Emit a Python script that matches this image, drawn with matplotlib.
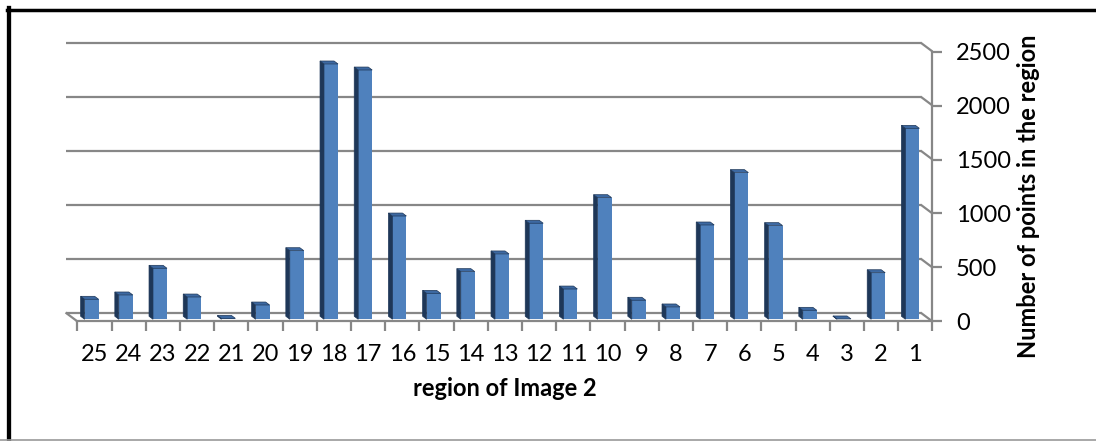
import matplotlib
matplotlib.use("Agg")
import matplotlib.pyplot as plt
from matplotlib.lines import Line2D
from matplotlib.patches import Polygon


# Point counts per region of image 2, listed left to right (25 down to 1)
regions = [str(n) for n in range(25, 0, -1)]
points = [185, 225, 472, 206, 8, 132, 635, 2364, 2308, 956, 240, 441, 605,
          889, 280, 1126, 176, 114, 873, 1358, 867, 83, 3, 431, 1768]
y_ticks = [0, 500, 1000, 1500, 2000, 2500]

FRONT = "#4F81BD"
SIDE = "#1E3758"
TOP = "#3D69A2"
GRID = "#878787"

plt.rcParams["font.family"] = ["Lato", "DejaVu Sans"]

fig = plt.figure(figsize=(10.96, 4.41), dpi=100)
ax = fig.add_axes([0.0707, 0.271, 0.7801, 0.6122])
n = len(regions)
ax.set_xlim(0, n)
ax.set_ylim(0, 2500)

# fake 3D: the back wall sits up and to the left of the front plane
depth_x, depth_y = -0.35, 83.0
bar_front, bar_back = 0.25, 0.58
bar_w = 0.41

line_kw = dict(color=GRID, lw=1.6, clip_on=False, zorder=1,
               solid_capstyle="butt")
for v in y_ticks:
    ax.plot([depth_x, n + depth_x], [v + depth_y] * 2, **line_kw)
    ax.plot([n + depth_x, n], [v + depth_y, v], **line_kw)
ax.plot([depth_x, 0], [depth_y, 0], **line_kw)

# bars: front face from ax.bar, side and top faces as polygons
dd_x = (bar_back - bar_front) * depth_x
dd_y = (bar_back - bar_front) * depth_y
for i, v in enumerate(points):
    cx = i + 0.5 + bar_front * depth_x
    base = bar_front * depth_y
    ax.bar(cx, v, bar_w, bottom=base, color=FRONT, zorder=3, clip_on=False)
    x0, x1 = cx - bar_w / 2, cx + bar_w / 2
    top = base + v
    side = Polygon([(x0, base), (x0, top), (x0 + dd_x, top + dd_y),
                    (x0 + dd_x, base + dd_y)],
                   closed=True, fc=SIDE, ec=SIDE, lw=0.5, zorder=3,
                   clip_on=False)
    lid = Polygon([(x0, top), (x1, top), (x1 + dd_x, top + dd_y),
                   (x0 + dd_x, top + dd_y)],
                  closed=True, fc=TOP, ec=SIDE, lw=0.5, zorder=4,
                  clip_on=False)
    ax.add_patch(side)
    ax.add_patch(lid)

for name in ["top", "left"]:
    ax.spines[name].set_visible(False)
for name in ["bottom", "right"]:
    ax.spines[name].set_color(GRID)
    ax.spines[name].set_linewidth(1.6)

ax.set_xticks([i + 0.5 for i in range(n)])
ax.set_xticklabels(regions, fontsize=17)
ax.set_xticks(range(n + 1), minor=True)
ax.tick_params(axis="x", which="major", length=0, pad=16)
ax.tick_params(axis="x", which="minor", length=7, width=1.6, color=GRID)

ax.yaxis.tick_right()
ax.set_yticks(y_ticks)
ax.set_yticklabels([str(v) for v in y_ticks], fontsize=17)
ax.tick_params(axis="y", length=7, width=1.6, color=GRID, pad=10)

fig.text(505 / 1096, 1 - 389 / 441, "region of Image 2", fontsize=17,
         fontweight="bold", ha="center", va="center")
fig.text(1028 / 1096, 1 - 196 / 441, "Number of points in the region",
         fontsize=17, fontweight="bold", rotation=90, ha="center",
         va="center")

# outer frame
fig.add_artist(Line2D([8.8 / 1096] * 2, [0, 1 - 8 / 441], color="black",
                      lw=3.1, transform=fig.transFigure))
fig.add_artist(Line2D([7 / 1096, 1], [1 - 10 / 441] * 2, color="black",
                      lw=2.5, transform=fig.transFigure))
fig.add_artist(Line2D([0, 1], [0.6 / 441] * 2, color="#9a9a9a",
                      lw=1.2, transform=fig.transFigure))

fig.savefig("out.png", dpi=100)
